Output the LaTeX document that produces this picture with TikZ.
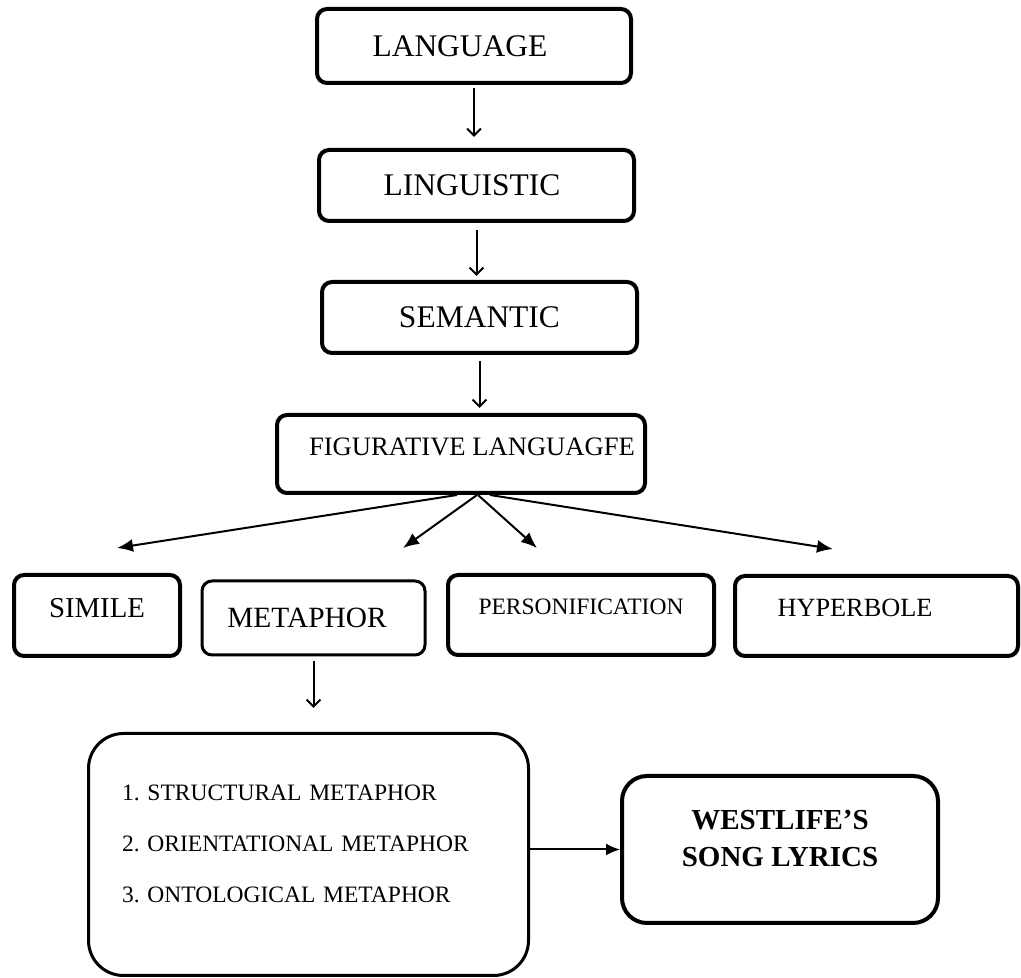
\documentclass[tikz,border=0pt]{standalone}
\usepackage{fontspec}
\setmainfont{Liberation Serif}
\usetikzlibrary{arrows.meta}
\frenchspacing

\begin{document}
\begin{tikzpicture}[x=1pt,y=1pt,->,>={Latex[length=16pt,width=13pt]},line width=2pt,
  box/.style={draw,line width=4pt,rounded corners=10pt,inner sep=0pt},
  down/.style={-{Straight Barb[length=7pt,width=14pt]},line width=2pt}]
\fill[white] (0,0) rectangle (1021,978);

\node[box,minimum width=314pt,minimum height=74pt,font=\fontsize{31.5}{36}\selectfont] (lang) at (474,932) {LANGUAGE\hspace*{28pt}};
\node[box,minimum width=315pt,minimum height=71pt,font=\fontsize{31.5}{36}\selectfont] (ling) at (476.5,792.5) {LINGUISTIC\hspace*{9pt}};
\node[box,minimum width=315pt,minimum height=71pt,font=\fontsize{31.5}{36}\selectfont] (sem) at (479.5,660.5) {SEMANTIC};
\node[box,minimum width=368pt,minimum height=78pt,text depth=14pt,font=\fontsize{26.6}{30}\selectfont] (fig) at (461,524) {\hspace*{22pt}FIGURATIVE LANGUAGFE};

\node[box,minimum width=166pt,minimum height=81pt,text depth=15pt,font=\fontsize{28.8}{32}\selectfont] (sim) at (97,362.5) {SIMILE};
\node[box,line width=3pt,minimum width=223pt,minimum height=74pt,font=\fontsize{29.4}{32}\selectfont] (met) at (313.5,360) {METAPHOR\hspace*{13pt}};
\node[box,minimum width=266pt,minimum height=80pt,text depth=16pt,font=\fontsize{23.5}{28}\selectfont] (pers) at (581,363) {PERSONIFICATION};
\node[box,minimum width=283pt,minimum height=80pt,text depth=16pt,font=\fontsize{26.3}{30}\selectfont] (hyp) at (876.5,362) {HYPERBOLE\hspace*{43pt}};

\node[box,line width=3pt,rounded corners=35pt,minimum width=440pt,minimum height=242pt,text width=373pt,align=left,text depth=123pt,font=\fontsize{23.5}{51}\selectfont] (types) at (308.5,123.5)
  {1. STRUCTURAL METAPHOR\\2. ORIENTATIONAL METAPHOR\\3. ONTOLOGICAL METAPHOR};
\node[box,rounded corners=25pt,minimum width=316pt,minimum height=147pt,align=center,text depth=22pt,font=\bfseries\fontsize{29}{37}\selectfont] (song) at (780,128.5)
  {WESTLIFE’S\\SONG LYRICS};

\coordinate (simtip) at (117,430);
\coordinate (mettip) at (403,430);
\coordinate (perstip) at (537,430);
\coordinate (hyptip) at (833,429);

\draw[down,shorten <=3pt,shorten >=11pt] (lang.south) -- (lang.south |- ling.north);
\draw[down,shorten <=7pt,shorten >=4pt] (ling.south) -- (ling.south |- sem.north);
\draw[down,shorten <=6pt,shorten >=5pt] (sem.south) -- (sem.south |- fig.north);

\draw ([xshift=-4pt]fig.south) -- (simtip);
\draw ([xshift=16pt]fig.south) -- (mettip);
\draw ([xshift=17pt]fig.south) -- (perstip);
\draw ([xshift=29pt]fig.south) -- (hyptip);

\draw[down,shorten <=5pt,shorten >=24pt] (met.south) -- (met.south |- types.north);
\draw[-{Latex[length=14pt,width=12pt]}] (types.east |- song.west) -- (song.west);
\end{tikzpicture}
\end{document}
